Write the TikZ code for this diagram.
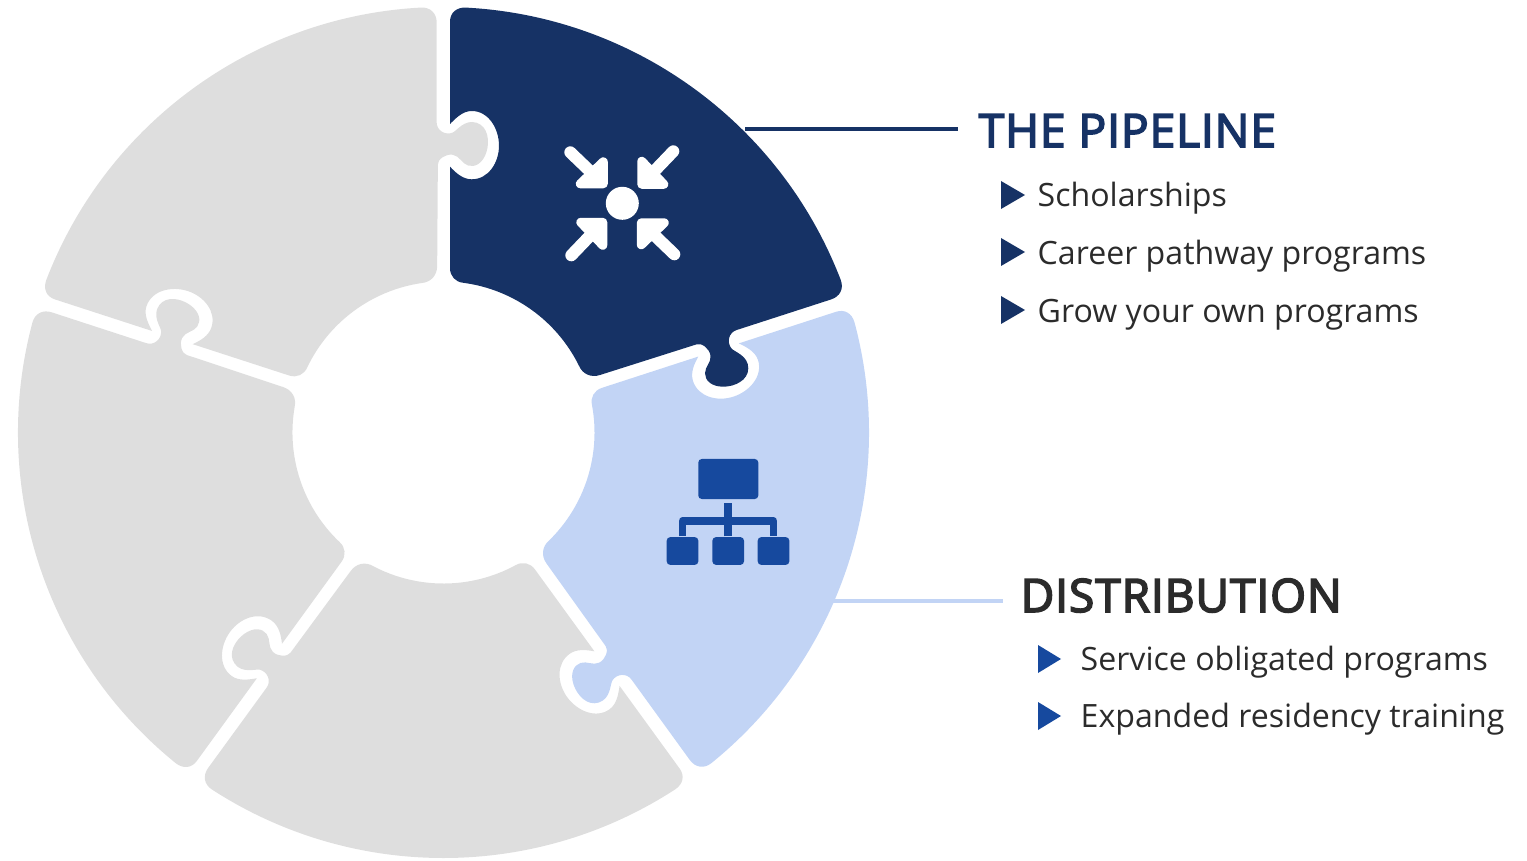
\documentclass[tikz,border=0pt]{standalone}
\usepackage{fontspec}
\setmainfont{Open Sans}
\newfontfamily\headingfont{Open Sans}[FakeBold=3.5, LetterSpace=2]

\definecolor{pipelinefill}{HTML}{163265}
\definecolor{distfill}{HTML}{C2D4F5}
\definecolor{restfill}{HTML}{DEDEDE}
\definecolor{iconblue}{HTML}{16499E}
\definecolor{bodytext}{HTML}{2B2B2B}

\tikzset{
  heading/.style={anchor=base west, inner sep=0pt, font=\fontsize{13.1}{16}\selectfont\headingfont},
  entry/.style={anchor=base west, inner sep=0pt, text=bodytext, font=\fontsize{9.13}{12}\selectfont},
  orgbox/.style={fill=iconblue, rounded corners=1pt, inner sep=0pt},
  orgline/.style={draw=iconblue, line width=0.077cm, line join=round},
}

% one puzzle piece, origin in the centre of the ring
\newcommand{\piecepath}{
  (22.3,424.9) arc (87:21:425.5)
  .. controls (400.5,143.7) and (396.5,135.9) .. (387.4,133) -- (293.2,102.5)
  .. controls (285,100) and (283,90) .. (288,84)
  .. controls (291,80.5) and (304.8,77) .. (304.8,64.2)
  .. controls (304.8,52) and (291,45.8) .. (279.8,45.8)
  .. controls (268,45.8) and (261.5,52) .. (261.5,59.2)
  .. controls (261.5,66) and (268,70) .. (267,77)
  .. controls (266,84) and (258,90) .. (253.2,88.2)
  -- (156.5,57.5) .. controls (147.5,54.6) and (139.1,58.3) .. (135.4,66.9)
  arc (26.3:82.4:151) .. controls (11.9,150.4) and (6.5,156.3) .. (6.5,164.5) -- (6.5,265.8)
  .. controls (12,260) and (19,253.2) .. (28.2,253.2)
  .. controls (45,253.2) and (55.5,270) .. (55.5,286.8)
  .. controls (55.5,304) and (45,321.5) .. (28.2,321.5)
  .. controls (19,321.5) and (12,314) .. (6.5,308.5)
  -- (6.5,410.8) .. controls (6.5,419.6) and (12.8,425.3) .. (22.3,424.9) -- cycle
}

\begin{document}
\begin{tikzpicture}[x=0.01cm, y=0.01cm]
\useasboundingbox (0,0) rectangle (1527,860);

% leader lines
\coordinate (pipelinestart) at (745,731);
\coordinate (pipelineend) at (958,731);
\coordinate (diststart) at (830,259);
\coordinate (distend) at (1003,259);
\draw[pipelinefill, line width=0.04cm] (pipelinestart) -- (pipelineend);
\draw[distfill, line width=0.035cm] (diststart) -- (distend);

% ring
\foreach \a/\c in {0/pipelinefill, -72/distfill, -144/restfill, -216/restfill, -288/restfill}
\fill[\c, shift={(443.5,427.5)}, rotate=\a] \piecepath;

% arrows of the pipeline icon
\fill[white] (622.3,656.7) circle (16.5);
\foreach \a in {0,90,180,270} {
\filldraw[white, shift={(622.3,656.7)}, rotate=\a, line join=round, line width=0.09cm]
  (-19,41.5) -- (-19,19.5) -- (-42,19.5) -- cycle;
\draw[white, shift={(622.3,656.7)}, rotate=\a, line cap=round, line width=0.12cm]
  (-52,51) -- (-28,28);
}

% org chart icon
\node[orgbox, minimum width=0.6cm, minimum height=0.4cm] (orgtop) at (728.3,381) {};
\node[orgbox, minimum width=0.316cm, minimum height=0.277cm] (orgleft) at (682.5,309) {};
\node[orgbox, minimum width=0.316cm, minimum height=0.277cm] (orgmid) at (728.2,309) {};
\node[orgbox, minimum width=0.316cm, minimum height=0.277cm] (orgright) at (773.5,309) {};
\draw[orgline] (orgmid.north) -- ++(0,33);
\draw[orgline] (orgleft.north) -- ++(0,15.5) -| (orgright.north);

% texts
\node[heading, text=pipelinefill] (pipelinetitle) at (978,713) {THE PIPELINE};
\node[entry] (scholar) at (1037,653) {Scholarships};
\node[entry] (career) at (1037,595) {Career pathway programs};
\node[entry] (grow) at (1037,537) {Grow your own programs};
\node[heading, text=bodytext] (disttitle) at (1020,248) {DISTRIBUTION};
\node[entry] (service) at (1080,190) {Service obligated programs};
\node[entry] (residency) at (1080,133) {Expanded residency training};

% bullets
\foreach \y in {665,608,550}
\fill[pipelinefill] (1001,\y+14) -- (1025,\y) -- (1001,\y-14) -- cycle;
\foreach \y in {201,144}
\fill[iconblue] (1038,\y+14) -- (1061,\y) -- (1038,\y-14) -- cycle;
\end{tikzpicture}
\end{document}
